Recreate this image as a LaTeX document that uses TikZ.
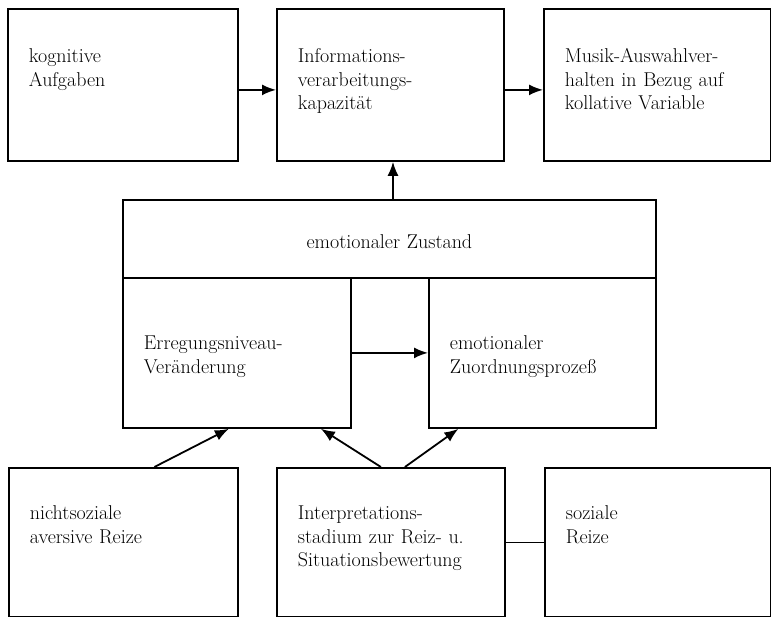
\documentclass[tikz,border=0pt]{standalone}
\usepackage{fontspec}
\usetikzlibrary{arrows.meta}

\begin{document}
\begin{tikzpicture}[x=1pt,y=-1pt,
  box/.style={draw,line width=1.8pt,anchor=north west,inner xsep=21pt,inner ysep=0pt,
    align=left,font=\fontsize{20}{23.5}\selectfont},
  pfeil/.style={line width=1.8pt,-{Latex[length=14pt,width=11pt]}}]
  \useasboundingbox (0,0) rectangle (771,617);

  % obere Reihe
  \node[box,text width=188pt,text height=54pt,text depth=98pt] (kog) at (7,8) {kognitive\\Aufgaben};
  \node[box,text width=185pt,text height=54pt,text depth=98pt] (info) at (276,8) {Informations-\\verarbeitungs-\\kapazität};
  \node[box,text width=185pt,text height=54pt,text depth=98pt] (musik) at (543,8) {Musik-Auswahlver-\\halten in Bezug auf\\kollative Variable};

  % emotionaler Zustand
  \node[box,align=center,text width=491pt,text height=49pt,text depth=29pt] (zustand) at (122,199) {emotionaler Zustand};
  \node[box,text width=186pt,text height=72pt,text depth=78pt] (erregung) at (122,277) {Erregungsniveau-\\Veränderung};
  \node[box,text width=185pt,text height=72pt,text depth=78pt] (zuordnung) at (428,277) {emotionaler\\Zuordnungsprozeß};

  % Reize
  \node[box,text width=187pt,text height=52pt,text depth=97pt] (nichtsoz) at (8,467) {nichtsoziale\\aversive Reize};
  \node[box,text width=186pt,text height=52pt,text depth=97pt] (interp) at (276,467) {Interpretations-\\stadium zur Reiz- u.\\Situationsbewertung};
  \node[box,text width=184pt,text height=52pt,text depth=97pt] (soziale) at (544,467) {soziale\\Reize};

  % Pfeile
  \draw[pfeil] ([yshift=-5pt]kog.east) -- ([yshift=-5pt]info.west);
  \draw[pfeil] ([yshift=-5pt]info.east) -- ([yshift=-5pt]musik.west);
  \draw[pfeil] (zustand.north -| 393,0) -- (info.south -| 393,0);
  \draw[pfeil] (erregung.east) -- (zuordnung.west);
  \draw[pfeil] ([xshift=31pt]nichtsoz.north) -- ([xshift=-8pt]erregung.south);
  \draw[pfeil] ([xshift=-10pt]interp.north) -- ([xshift=84pt]erregung.south);
  \draw[pfeil] ([xshift=14pt]interp.north) -- ([xshift=-84pt]zuordnung.south);
  \draw[line width=1.8pt] (interp.east) -- (soziale.west);

\end{tikzpicture}
\end{document}
